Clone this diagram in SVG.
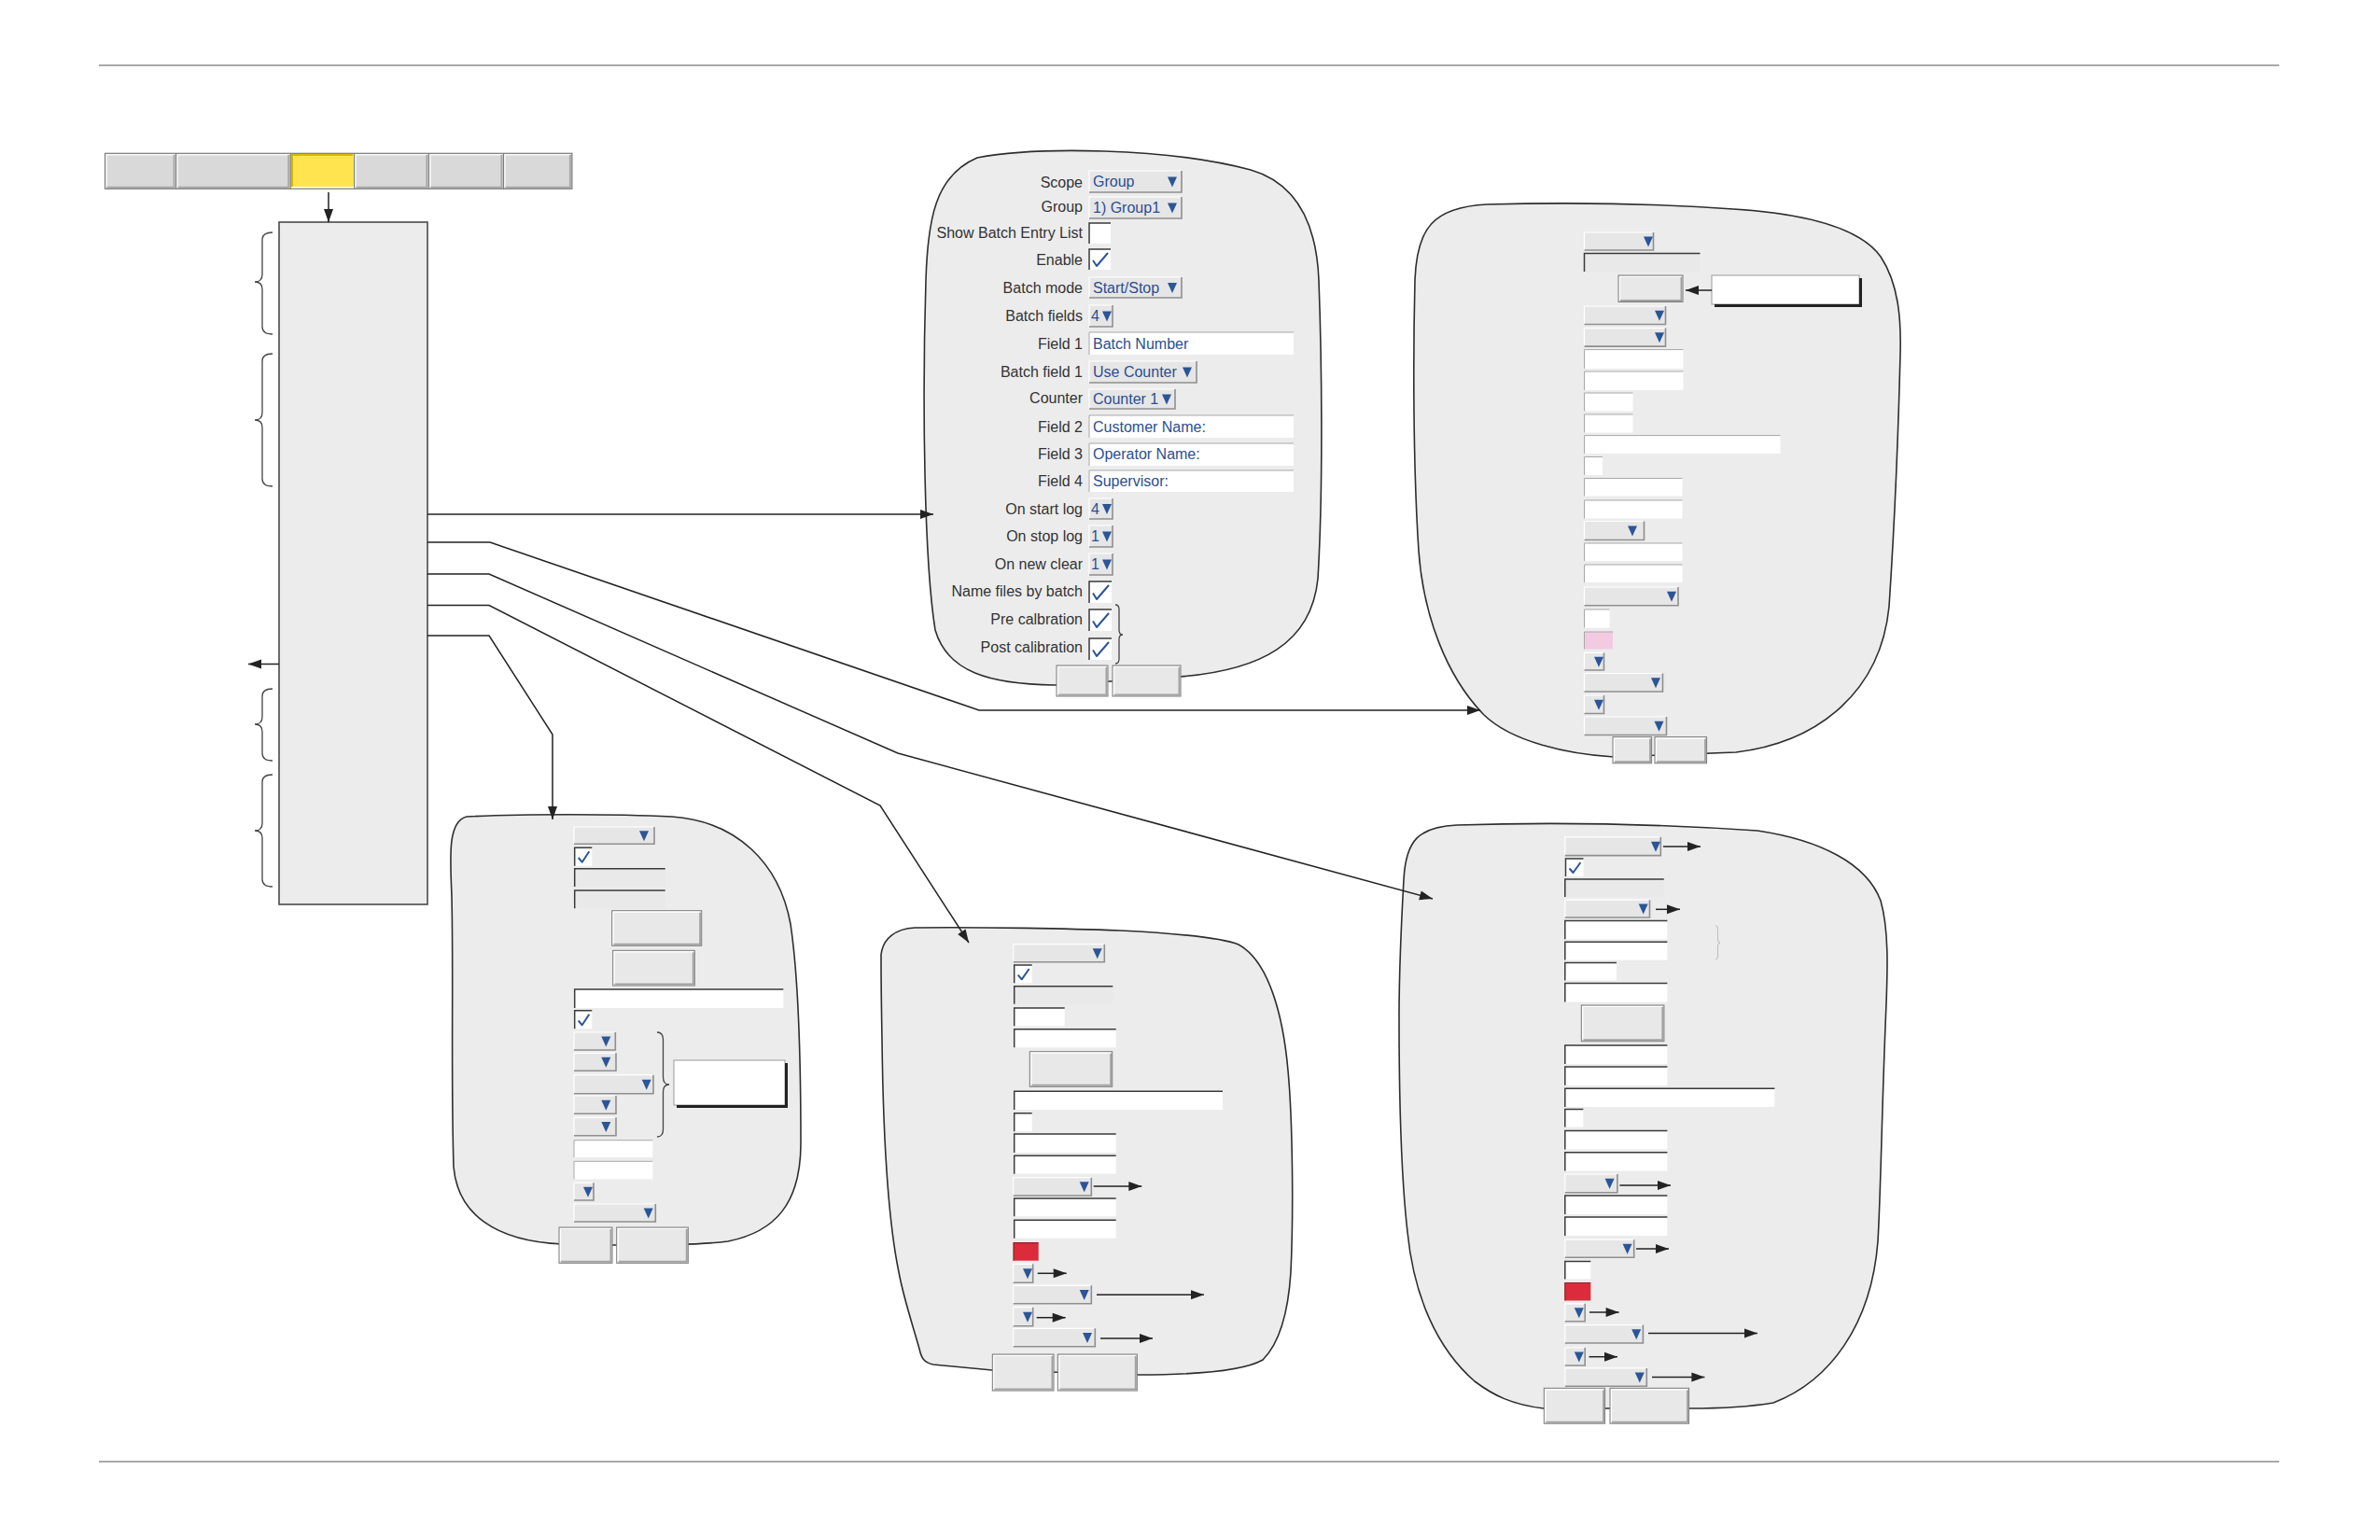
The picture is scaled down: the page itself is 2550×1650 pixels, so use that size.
<svg xmlns="http://www.w3.org/2000/svg" width="2550" height="1650" viewBox="0 0 2550 1650">
<style>
.rule{stroke:#8c8c8c;stroke-width:1.5}
.bub{fill:#ececec;stroke:#2e2e2e;stroke-width:1.6}
.box{fill:#ececec;stroke:#4a4a4a;stroke-width:1.6}
.dd{fill:#e6e6e6}
.sh{fill:none;stroke:#8f8f8f;stroke-width:1.6}
.hl{fill:none;stroke:#fff;stroke-width:1.2}
.tri{fill:#2c5597}
.tf{fill:#fff}
.tfg{fill:#e9e9e9}
.ind{fill:none;stroke:#3a3a3a;stroke-width:1.5}
.inl{fill:none;stroke:#a8a8a8;stroke-width:1}
.btn{fill:#e8e8e8;stroke:#7a7a7a;stroke-width:1}
.bsh{fill:none;stroke:#a3a3a3;stroke-width:2}
.chk{fill:none;stroke:#2c5597;stroke-width:2;stroke-linejoin:round}
.lbl{font-family:"Liberation Sans",Arial,sans-serif;font-size:16px;fill:#333;text-anchor:end}
.val{font-family:"Liberation Sans",Arial,sans-serif;font-size:16px;fill:#2b4e93}
.con{fill:none;stroke:#232323;stroke-width:1.5}
.brc{fill:none;stroke:#444;stroke-width:1.3}
.call{fill:#fff;stroke:#9a9a9a;stroke-width:1}
.cals{fill:none;stroke:#222;stroke-width:3}
.red{fill:#dc2b3b}
.pink{fill:#f2cbe2}
.tab{fill:#d9d9d9}
.tsh{fill:none;stroke:#a8a8a8;stroke-width:2}
</style>
<defs>
<marker id="ah" markerUnits="userSpaceOnUse" markerWidth="14" markerHeight="10" refX="14" refY="5" orient="auto" overflow="visible"><path d="M0,0 L14,5 L0,10 Z" fill="#232323"/></marker>
</defs>
<rect width="2550" height="1650" fill="#fff"/>
<g id="rules">
<line class="rule" x1="106" y1="70" x2="2442" y2="70"/>
<line class="rule" x1="106" y1="1566" x2="2442" y2="1566"/>
</g>
<g id="tabs">
<rect class="tab" x="112.5" y="164.3" width="76.1" height="38"/>
<rect class="tab" x="188.6" y="164.3" width="122.7" height="38"/>
<rect fill="#ffe450" x="311.3" y="164.3" width="68.3" height="38"/>
<rect class="tab" x="379.6" y="164.3" width="79.8" height="38"/>
<rect class="tab" x="459.4" y="164.3" width="80.1" height="38"/>
<rect class="tab" x="539.5" y="164.3" width="73.4" height="38"/>
<path class="hl" d="M114,201 V165.8 H187 M190.1,201 V165.8 H309.8 M381.1,201 V165.8 H457.9 M460.9,201 V165.8 H538 M541,201 V165.8 H611.4"/>
<path class="tsh" d="M114.5,200.8 H186.6 V166 M190.6,200.8 H309.3 V166 M381.6,200.8 H457.4 V166 M461.4,200.8 H537.5 V166 M541.5,200.8 H610.9 V166"/>
<path fill="none" stroke="#d9b800" stroke-width="2.5" d="M312.8,201 V165.8 H378"/>
<path fill="none" stroke="#fff" stroke-width="2" d="M312,201 H379"/>
<path fill="none" stroke="#7d7d7d" stroke-width="1" d="M188.6,164.3 V202.3 M311.3,164.3 V202.3 M379.6,164.3 V202.3 M459.4,164.3 V202.3 M539.5,164.3 V202.3"/>
<rect x="112.5" y="164.3" width="500.4" height="38" fill="none" stroke="#7d7d7d" stroke-width="1.2"/>
</g>
<g id="main">
<rect class="box" x="299" y="238" width="159" height="731"/>
<path class="brc" d="M292,249 Q281,249 281,257 L281,294 Q281,302 273,302 Q281,302 281,310 L281,350 Q281,358 292,358"/>
<path class="brc" d="M292,379 Q281,379 281,387 L281,442 Q281,450 273,450 Q281,450 281,458 L281,513 Q281,521 292,521"/>
<path class="brc" d="M292,738 Q281,738 281,746 L281,768 Q281,776 273,776 Q281,776 281,784 L281,807 Q281,815 292,815"/>
<path class="brc" d="M292,830 Q281,830 281,838 L281,882 Q281,890 273,890 Q281,890 281,898 L281,942 Q281,950 292,950"/>
</g>
<g id="b1">
<path class="bub" d="M1047,169 C1110,157 1250,158 1340,182 C1395,198 1411,250 1413,300 C1416,380 1418,520 1412,620 C1405,690 1350,718 1265,725 L1130,734 C1060,733 1015,720 1002,675 C990,600 988,430 992,300 C994,235 1002,188 1047,169 Z"/>
<text class="lbl" x="1160" y="200.5">Scope</text>
<text class="lbl" x="1160" y="227">Group</text>
<text class="lbl" x="1160" y="255">Show Batch Entry List</text>
<text class="lbl" x="1160" y="283.5">Enable</text>
<text class="lbl" x="1160" y="313.5">Batch mode</text>
<text class="lbl" x="1160" y="344">Batch fields</text>
<text class="lbl" x="1160" y="373.5">Field 1</text>
<text class="lbl" x="1160" y="404">Batch field 1</text>
<text class="lbl" x="1160" y="432">Counter</text>
<text class="lbl" x="1160" y="462.5">Field 2</text>
<text class="lbl" x="1160" y="492">Field 3</text>
<text class="lbl" x="1160" y="521">Field 4</text>
<text class="lbl" x="1160" y="550.5">On start log</text>
<text class="lbl" x="1160" y="580">On stop log</text>
<text class="lbl" x="1160" y="610">On new clear</text>
<text class="lbl" x="1160" y="638.5">Name files by batch</text>
<text class="lbl" x="1160" y="668.5">Pre calbration</text>
<text class="lbl" x="1160" y="699">Post calibration</text>
<rect class="dd" x="1167" y="183" width="99" height="23"/><path class="hl" d="M1167,206 V183 H1266"/><path class="sh" d="M1167,206 H1266 V183"/><path class="tri" d="M1251,189.5 h10 l-5,11 z"/><text class="val" x="1171" y="200">Group</text>
<rect class="dd" x="1167" y="211" width="99" height="23"/><path class="hl" d="M1167,234 V211 H1266"/><path class="sh" d="M1167,234 H1266 V211"/><path class="tri" d="M1251,217.5 h10 l-5,11 z"/><text class="val" x="1171" y="228">1) Group1</text>
<rect class="tf" x="1167" y="239" width="23" height="22"/><path class="ind" d="M1167,261 V239 H1190"/>
<rect class="tf" x="1167" y="267" width="23" height="22"/><path class="ind" d="M1167,289 V267 H1190"/><path class="chk" d="M1171,279 L1175,285 L1187,271"/>
<rect class="dd" x="1167" y="297" width="99" height="22"/><path class="hl" d="M1167,319 V297 H1266"/><path class="sh" d="M1167,319 H1266 V297"/><path class="tri" d="M1251,303 h10 l-5,11 z"/><text class="val" x="1171" y="313.5">Start/Stop</text>
<rect class="dd" x="1167" y="327" width="25" height="23"/><path class="hl" d="M1167,350 V327 H1192"/><path class="sh" d="M1167,350 H1192 V327"/><path class="tri" d="M1181,333.5 h10 l-5,11 z"/><text class="val" x="1169" y="344">4</text>
<rect class="tf" x="1167" y="356" width="219" height="24"/><path class="inl" d="M1167,380 V356 H1386"/><text class="val" x="1171" y="373.5">Batch Number</text>
<rect class="dd" x="1167" y="387" width="115" height="23"/><path class="hl" d="M1167,410 V387 H1282"/><path class="sh" d="M1167,410 H1282 V387"/><path class="tri" d="M1267,393.5 h10 l-5,11 z"/><text class="val" x="1171" y="404">Use Counter</text>
<rect class="dd" x="1167" y="417" width="92" height="21"/><path class="hl" d="M1167,438 V417 H1259"/><path class="sh" d="M1167,438 H1259 V417"/><path class="tri" d="M1245,422.5 h10 l-5,11 z"/><text class="val" x="1171" y="433">Counter 1</text>
<rect class="tf" x="1167" y="445" width="219" height="24"/><path class="inl" d="M1167,469 V445 H1386"/><text class="val" x="1171" y="462.5">Customer Name:</text>
<rect class="tf" x="1167" y="475" width="219" height="24"/><path class="inl" d="M1167,499 V475 H1386"/><text class="val" x="1171" y="492">Operator Name:</text>
<rect class="tf" x="1167" y="504" width="219" height="23"/><path class="inl" d="M1167,527 V504 H1386"/><text class="val" x="1171" y="521">Supervisor:</text>
<rect class="dd" x="1167" y="534" width="25" height="22"/><path class="hl" d="M1167,556 V534 H1192"/><path class="sh" d="M1167,556 H1192 V534"/><path class="tri" d="M1181,540 h10 l-5,11 z"/><text class="val" x="1169" y="550.5">4</text>
<rect class="dd" x="1167" y="563" width="25" height="23"/><path class="hl" d="M1167,586 V563 H1192"/><path class="sh" d="M1167,586 H1192 V563"/><path class="tri" d="M1181,569.5 h10 l-5,11 z"/><text class="val" x="1169" y="580">1</text>
<rect class="dd" x="1167" y="593" width="25" height="23"/><path class="hl" d="M1167,616 V593 H1192"/><path class="sh" d="M1167,616 H1192 V593"/><path class="tri" d="M1181,599.5 h10 l-5,11 z"/><text class="val" x="1169" y="610">1</text>
<rect class="tf" x="1167" y="623" width="24" height="23"/><path class="ind" d="M1167,646 V623 H1191"/><path class="chk" d="M1171,635.5 L1175,642 L1188,627"/>
<rect class="tf" x="1167" y="653" width="24" height="23"/><path class="ind" d="M1167,676 V653 H1191"/><path class="chk" d="M1171,665.5 L1175,672 L1188,657"/>
<rect class="tf" x="1167" y="684" width="24" height="23"/><path class="ind" d="M1167,707 V684 H1191"/><path class="chk" d="M1171,696.5 L1175,703 L1188,688"/>
<path class="brc" d="M1195,648 Q1199,648 1199,653 L1199,675 Q1199,680 1203,680 Q1199,680 1199,685 L1199,706 Q1199,711 1195,711"/>
<rect class="btn" x="1132" y="713" width="55" height="33"/><path class="bsh" d="M1134,744.5 H1185.5 V715"/><path class="hl" d="M1133.5,744 V714.5 H1185"/>
<rect class="btn" x="1192" y="713" width="73" height="33"/><path class="bsh" d="M1194,744.5 H1263.5 V715"/><path class="hl" d="M1193.5,744 V714.5 H1263"/>
</g>
<g id="b2">
<path class="bub" d="M1593,219 C1700,216 1800,220 1857,224 C1920,228 1990,240 2015,275 C2035,305 2037,345 2036,380 C2034,460 2030,560 2024,650 C2015,740 1950,795 1860,806 L1729,811 C1680,808 1620,795 1590,766 C1550,725 1525,660 1520,590 C1514,500 1514,380 1516,300 C1518,245 1535,222 1593,219 Z"/>
<rect class="dd" x="1697.5" y="249" width="74" height="19"/><path class="hl" d="M1697.5,268 V249 H1771.5"/><path class="sh" d="M1697.5,268 H1771.5 V249"/><path class="tri" d="M1761,253.5 h10 l-5,11 z"/>
<rect class="tfg" x="1697.5" y="271.4" width="124" height="19.6"/><path class="ind" d="M1697.5,291 V271.4 H1821.5"/>
<rect class="btn" x="1734" y="295" width="69" height="28.5"/><path class="bsh" d="M1736,322 H1801.5 V297"/><path class="hl" d="M1735.5,321.5 V296.5 H1801"/>
<rect class="call" x="1834" y="295" width="158" height="31"/><path class="cals" d="M1837,327.5 H1993.5 V298"/>
<rect class="dd" x="1697.5" y="328" width="87" height="19.5"/><path class="hl" d="M1697.5,347.5 V328 H1784.5"/><path class="sh" d="M1697.5,347.5 H1784.5 V328"/><path class="tri" d="M1773,332.75 h10 l-5,11 z"/>
<rect class="dd" x="1697.5" y="351.6" width="87" height="19.5"/><path class="hl" d="M1697.5,371.1 V351.6 H1784.5"/><path class="sh" d="M1697.5,371.1 H1784.5 V351.6"/><path class="tri" d="M1773,356.35 h10 l-5,11 z"/>
<rect class="tf" x="1697.5" y="374.6" width="106" height="20.4"/><path class="inl" d="M1697.5,395 V374.6 H1803.5"/>
<rect class="tf" x="1697.5" y="398" width="106" height="20"/><path class="inl" d="M1697.5,418 V398 H1803.5"/>
<rect class="tf" x="1697.5" y="421" width="52" height="19.5"/><path class="inl" d="M1697.5,440.5 V421 H1749.5"/>
<rect class="tf" x="1697.5" y="444" width="52" height="19.5"/><path class="inl" d="M1697.5,463.5 V444 H1749.5"/>
<rect class="tf" x="1697.5" y="466.6" width="210" height="19.4"/><path class="inl" d="M1697.5,486 V466.6 H1907.5"/>
<rect class="tf" x="1697.5" y="489.5" width="19.5" height="19.5"/><path class="inl" d="M1697.5,509 V489.5 H1717"/>
<rect class="tf" x="1697.5" y="512.5" width="105" height="19"/><path class="inl" d="M1697.5,531.5 V512.5 H1802.5"/>
<rect class="tf" x="1697.5" y="536" width="105" height="19.5"/><path class="inl" d="M1697.5,555.5 V536 H1802.5"/>
<rect class="dd" x="1697.5" y="558.5" width="64" height="20"/><path class="hl" d="M1697.5,578.5 V558.5 H1761.5"/><path class="sh" d="M1697.5,578.5 H1761.5 V558.5"/><path class="tri" d="M1744,563.5 h10 l-5,11 z"/>
<rect class="tf" x="1697.5" y="582" width="105" height="19"/><path class="inl" d="M1697.5,601 V582 H1802.5"/>
<rect class="tf" x="1697.5" y="605" width="105" height="19"/><path class="inl" d="M1697.5,624 V605 H1802.5"/>
<rect class="dd" x="1697.5" y="629" width="100.5" height="19.7"/><path class="hl" d="M1697.5,648.7 V629 H1798"/><path class="sh" d="M1697.5,648.7 H1798 V629"/><path class="tri" d="M1786,633.85 h10 l-5,11 z"/>
<rect class="tf" x="1697.5" y="653" width="27" height="19.6"/><path class="inl" d="M1697.5,672.6 V653 H1724.5"/>
<rect class="pink" x="1697.5" y="677" width="30.5" height="18.5"/><path class="inl" d="M1697.5,695.5 V677 H1728"/>
<rect class="dd" x="1697.5" y="699.4" width="21" height="18.6"/><path class="hl" d="M1697.5,718 V699.4 H1718.5"/><path class="sh" d="M1697.5,718 H1718.5 V699.4"/><path class="tri" d="M1708,703.7 h10 l-5,11 z"/>
<rect class="dd" x="1697.5" y="721.5" width="84" height="19.5"/><path class="hl" d="M1697.5,741 V721.5 H1781.5"/><path class="sh" d="M1697.5,741 H1781.5 V721.5"/><path class="tri" d="M1769,726.25 h10 l-5,11 z"/>
<rect class="dd" x="1697.5" y="745" width="21" height="19.5"/><path class="hl" d="M1697.5,764.5 V745 H1718.5"/><path class="sh" d="M1697.5,764.5 H1718.5 V745"/><path class="tri" d="M1708,749.75 h10 l-5,11 z"/>
<rect class="dd" x="1697.5" y="768" width="88" height="19.5"/><path class="hl" d="M1697.5,787.5 V768 H1785.5"/><path class="sh" d="M1697.5,787.5 H1785.5 V768"/><path class="tri" d="M1772.5,772.75 h10 l-5,11 z"/>
<rect class="btn" x="1728" y="789.6" width="41.6" height="28.2"/><path class="bsh" d="M1730,816.3 H1768.1 V791.6"/><path class="hl" d="M1729.5,815.8 V791.1 H1767.6"/>
<rect class="btn" x="1773" y="789.6" width="55.6" height="28.2"/><path class="bsh" d="M1775,816.3 H1827.1 V791.6"/><path class="hl" d="M1774.5,815.8 V791.1 H1826.6"/>
<path class="con" marker-end="url(#ah)" d="M1834,311 H1806"/>
</g>
<g id="b4">
<path class="bub" d="M500,875 C560,872 660,872 720,875 C790,880 835,925 847,990 C856,1050 858,1150 858,1225 C858,1290 830,1320 780,1330 C750,1334 700,1334 650,1334 L603,1333 C530,1330 490,1300 486,1250 C483,1150 486,1050 484,960 C482,915 480,880 500,875 Z"/>
<rect class="dd" x="615" y="886" width="86" height="18.3"/><path class="hl" d="M615,904.3 V886 H701"/><path class="sh" d="M615,904.3 H701 V886"/><path class="tri" d="M685,890.15 h10 l-5,11 z"/>
<rect class="tf" x="615.7" y="908.3" width="18.6" height="19.4"/><path class="ind" d="M615.7,927.7 V908.3 H634.3"/><path class="chk" d="M619.7,919 L623.7,923.7 L631.3,912.3"/>
<rect class="tfg" x="615.7" y="930.7" width="97" height="19.3"/><path class="ind" d="M615.7,950 V930.7 H712.7"/>
<rect class="tfg" x="615.7" y="954" width="97" height="19.3"/><path class="ind" d="M615.7,973.3 V954 H712.7"/>
<rect class="btn" x="655.7" y="975.7" width="96" height="37.6"/><path class="bsh" d="M657.7,1011.8 H750.2 V977.7"/><path class="hl" d="M657.2,1011.3 V977.2 H749.7"/>
<rect class="btn" x="656.7" y="1018.3" width="87.6" height="37.7"/><path class="bsh" d="M658.7,1054.5 H742.8 V1020.3"/><path class="hl" d="M658.2,1054 V1019.8 H742.3"/>
<rect class="tf" x="615.7" y="1060" width="223.6" height="20"/><path class="ind" d="M615.7,1080 V1060 H839.3"/>
<rect class="tf" x="615.7" y="1082.7" width="18.6" height="19.6"/><path class="ind" d="M615.7,1102.3 V1082.7 H634.3"/><path class="chk" d="M619.7,1093.5 L623.7,1098.3 L631.3,1086.7"/>
<rect class="dd" x="615" y="1106" width="44.3" height="19"/><path class="hl" d="M615,1125 V1106 H659.3"/><path class="sh" d="M615,1125 H659.3 V1106"/><path class="tri" d="M644.3,1110.5 h10 l-5,11 z"/>
<rect class="dd" x="615" y="1128.3" width="45" height="19"/><path class="hl" d="M615,1147.3 V1128.3 H660"/><path class="sh" d="M615,1147.3 H660 V1128.3"/><path class="tri" d="M644.3,1132.8 h10 l-5,11 z"/>
<rect class="dd" x="615" y="1151.7" width="85" height="20"/><path class="hl" d="M615,1171.7 V1151.7 H700"/><path class="sh" d="M615,1171.7 H700 V1151.7"/><path class="tri" d="M687.7,1156.7 h10 l-5,11 z"/>
<rect class="dd" x="615" y="1174" width="45" height="19.3"/><path class="hl" d="M615,1193.3 V1174 H660"/><path class="sh" d="M615,1193.3 H660 V1174"/><path class="tri" d="M644.3,1178.65 h10 l-5,11 z"/>
<rect class="dd" x="615" y="1197.3" width="45" height="19.4"/><path class="hl" d="M615,1216.7 V1197.3 H660"/><path class="sh" d="M615,1216.7 H660 V1197.3"/><path class="tri" d="M644.3,1202 h10 l-5,11 z"/>
<path class="brc" d="M704,1106 Q710.5,1106 710.5,1114 L710.5,1154 Q710.5,1162 717,1162 Q710.5,1162 710.5,1170 L710.5,1210 Q710.5,1218 704,1218"/>
<rect class="call" x="722" y="1136" width="119" height="48"/><path class="cals" d="M725,1185.5 H842.5 V1139"/>
<rect class="tf" x="615" y="1221.7" width="84.3" height="18.3"/><path class="inl" d="M615,1240 V1221.7 H699.3"/>
<rect class="tf" x="615" y="1244.3" width="84.3" height="19"/><path class="inl" d="M615,1263.3 V1244.3 H699.3"/>
<rect class="dd" x="615" y="1267.3" width="21" height="18.7"/><path class="hl" d="M615,1286 V1267.3 H636"/><path class="sh" d="M615,1286 H636 V1267.3"/><path class="tri" d="M625,1271.65 h10 l-5,11 z"/>
<rect class="dd" x="615" y="1290" width="87.3" height="19"/><path class="hl" d="M615,1309 V1290 H702.3"/><path class="sh" d="M615,1309 H702.3 V1290"/><path class="tri" d="M689.7,1294.5 h10 l-5,11 z"/>
<rect class="btn" x="599" y="1315" width="57" height="38.3"/><path class="bsh" d="M601,1351.8 H654.5 V1317"/><path class="hl" d="M600.5,1351.3 V1316.5 H654"/>
<rect class="btn" x="660.7" y="1315" width="76.6" height="38.3"/><path class="bsh" d="M662.7,1351.8 H735.8 V1317"/><path class="hl" d="M662.2,1351.3 V1316.5 H735.3"/>
</g>
<g id="b3">
<path class="bub" d="M980,994 C1050,993 1150,995 1200,997 C1260,1000 1310,1005 1327,1012 C1360,1030 1375,1090 1380,1147 C1385,1200 1386,1300 1383,1363 C1380,1410 1370,1440 1353,1457 C1330,1470 1270,1473 1220,1473 L1063,1468 L1000,1462 C990,1460 987,1455 985,1445 C975,1410 968,1390 963,1363 C950,1300 946,1200 945,1113 C944,1060 944,1030 944,1023 C946,1005 960,995 980,994 Z"/>
<rect class="dd" x="1085.7" y="1011.7" width="97.6" height="19"/><path class="hl" d="M1085.7,1030.7 V1011.7 H1183.3"/><path class="sh" d="M1085.7,1030.7 H1183.3 V1011.7"/><path class="tri" d="M1170.7,1016.2 h10 l-5,11 z"/>
<rect class="tf" x="1086.7" y="1034" width="19" height="19.3"/><path class="ind" d="M1086.7,1053.3 V1034 H1105.7"/><path class="chk" d="M1090.7,1044.6 L1094.7,1049.3 L1102.7,1038"/>
<rect class="tfg" x="1086.7" y="1056.7" width="105.6" height="19"/><path class="ind" d="M1086.7,1075.7 V1056.7 H1192.3"/>
<rect class="tf" x="1086.7" y="1080" width="54" height="19.3"/><path class="ind" d="M1086.7,1099.3 V1080 H1140.7"/>
<rect class="tf" x="1086.7" y="1102.7" width="109" height="19.6"/><path class="ind" d="M1086.7,1122.3 V1102.7 H1195.7"/>
<rect class="btn" x="1103.3" y="1126.7" width="88.4" height="37.6"/><path class="bsh" d="M1105.3,1162.8 H1190.2 V1128.7"/><path class="hl" d="M1104.8,1162.3 V1128.2 H1189.7"/>
<rect class="tf" x="1086.7" y="1169.3" width="223.3" height="19.7"/><path class="ind" d="M1086.7,1189 V1169.3 H1310"/>
<rect class="tf" x="1086.7" y="1192.7" width="19" height="19.6"/><path class="ind" d="M1086.7,1212.3 V1192.7 H1105.7"/>
<rect class="tf" x="1086.7" y="1215" width="109" height="20"/><path class="ind" d="M1086.7,1235 V1215 H1195.7"/>
<rect class="tf" x="1086.7" y="1238.3" width="109" height="19.4"/><path class="ind" d="M1086.7,1257.7 V1238.3 H1195.7"/>
<rect class="dd" x="1085.7" y="1261.7" width="83.6" height="19.3"/><path class="hl" d="M1085.7,1281 V1261.7 H1169.3"/><path class="sh" d="M1085.7,1281 H1169.3 V1261.7"/><path class="tri" d="M1156.7,1266.35 h10 l-5,11 z"/>
<rect class="tf" x="1086.7" y="1284" width="109" height="19.3"/><path class="ind" d="M1086.7,1303.3 V1284 H1195.7"/>
<rect class="tf" x="1086.7" y="1307.3" width="109" height="19.4"/><path class="ind" d="M1086.7,1326.7 V1307.3 H1195.7"/>
<rect class="red" x="1086" y="1331.7" width="26.7" height="19"/><path fill="none" stroke="#9a1b26" stroke-width="1.2" d="M1086,1350.7 V1331.7 H1112.7"/>
<rect class="dd" x="1085.7" y="1354.3" width="21" height="20"/><path class="hl" d="M1085.7,1374.3 V1354.3 H1106.7"/><path class="sh" d="M1085.7,1374.3 H1106.7 V1354.3"/><path class="tri" d="M1096,1359.3 h10 l-5,11 z"/>
<rect class="dd" x="1085.7" y="1377.3" width="83.6" height="19.4"/><path class="hl" d="M1085.7,1396.7 V1377.3 H1169.3"/><path class="sh" d="M1085.7,1396.7 H1169.3 V1377.3"/><path class="tri" d="M1156.7,1382 h10 l-5,11 z"/>
<rect class="dd" x="1085.7" y="1400.7" width="21" height="20"/><path class="hl" d="M1085.7,1420.7 V1400.7 H1106.7"/><path class="sh" d="M1085.7,1420.7 H1106.7 V1400.7"/><path class="tri" d="M1096,1405.7 h10 l-5,11 z"/>
<rect class="dd" x="1085.7" y="1423.3" width="87.6" height="19.4"/><path class="hl" d="M1085.7,1442.7 V1423.3 H1173.3"/><path class="sh" d="M1085.7,1442.7 H1173.3 V1423.3"/><path class="tri" d="M1160,1428 h10 l-5,11 z"/>
<path class="con" marker-end="url(#ah)" d="M1171.7,1271 H1223.3"/>
<path class="con" marker-end="url(#ah)" d="M1111.7,1364.3 H1142.7"/>
<path class="con" marker-end="url(#ah)" d="M1175,1387.3 H1290"/>
<path class="con" marker-end="url(#ah)" d="M1110.7,1411.7 H1141.7"/>
<path class="con" marker-end="url(#ah)" d="M1179,1434 H1235"/>
<rect class="btn" x="1063.3" y="1451" width="65.7" height="39"/><path class="bsh" d="M1065.3,1488.5 H1127.5 V1453"/><path class="hl" d="M1064.8,1488 V1452.5 H1127"/>
<rect class="btn" x="1133.3" y="1451" width="85" height="39"/><path class="bsh" d="M1135.3,1488.5 H1216.8 V1453"/><path class="hl" d="M1134.8,1488 V1452.5 H1216.3"/>
</g>
<g id="b5">
<path class="bub" d="M1561,884 C1650,881 1750,881 1883,890 C1950,900 2000,925 2015,965 C2025,1000 2022,1050 2020,1100 C2016,1200 2015,1280 2012,1330 C2005,1420 1960,1480 1900,1503 C1870,1508 1840,1509 1811,1509 L1654,1509 C1620,1505 1600,1495 1580,1480 C1540,1445 1515,1390 1508,1320 C1500,1250 1499,1150 1499,1090 C1499,1030 1502,980 1504,943 C1506,900 1520,886 1561,884 Z"/>
<rect class="dd" x="1676.8" y="896.8" width="102.5" height="19.8"/><path class="hl" d="M1676.8,916.6 V896.8 H1779.3"/><path class="sh" d="M1676.8,916.6 H1779.3 V896.8"/><path class="tri" d="M1769,901.7 h10 l-5,11 z"/>
<rect class="tf" x="1677.5" y="920" width="19" height="19"/><path class="ind" d="M1677.5,939 V920 H1696.5"/><path class="chk" d="M1681.5,930.5 L1685.5,935 L1693.5,924"/>
<rect class="tfg" x="1676.8" y="941.9" width="106" height="19"/><path class="ind" d="M1676.8,960.9 V941.9 H1782.8"/>
<rect class="dd" x="1676.8" y="964.2" width="90.7" height="18.8"/><path class="hl" d="M1676.8,983 V964.2 H1767.5"/><path class="sh" d="M1676.8,983 H1767.5 V964.2"/><path class="tri" d="M1755.7,968.6 h10 l-5,11 z"/>
<rect class="tf" x="1676.8" y="986.5" width="109.6" height="19.8"/><path class="ind" d="M1676.8,1006.3 V986.5 H1786.4"/>
<rect class="tf" x="1676.8" y="1009.2" width="109.6" height="19.4"/><path class="ind" d="M1676.8,1028.6 V1009.2 H1786.4"/>
<path fill="none" stroke="#bbb" stroke-width="1" d="M1838,991.5 Q1840.5,991.5 1840.5,995.5 L1840.5,1006 Q1840.5,1010 1843,1010 Q1840.5,1010 1840.5,1014 L1840.5,1024 Q1840.5,1028 1838,1028"/>
<rect class="tf" x="1676.8" y="1031.5" width="55.2" height="19"/><path class="ind" d="M1676.8,1050.5 V1031.5 H1732"/>
<rect class="tf" x="1676.8" y="1053.4" width="109.6" height="20.2"/><path class="ind" d="M1676.8,1073.6 V1053.4 H1786.4"/>
<rect class="btn" x="1694.3" y="1077" width="88.6" height="38.7"/><path class="bsh" d="M1696.3,1114.2 H1781.4 V1079"/><path class="hl" d="M1695.8,1113.7 V1078.5 H1780.9"/>
<rect class="tf" x="1676.8" y="1120" width="109.6" height="20"/><path class="ind" d="M1676.8,1140 V1120 H1786.4"/>
<rect class="tf" x="1676.8" y="1143" width="109.6" height="19.8"/><path class="ind" d="M1676.8,1162.8 V1143 H1786.4"/>
<rect class="tf" x="1676.8" y="1166.2" width="224.6" height="19.8"/><path class="ind" d="M1676.8,1186 V1166.2 H1901.4"/>
<rect class="tf" x="1676.8" y="1188.5" width="19.6" height="19"/><path class="ind" d="M1676.8,1207.5 V1188.5 H1696.4"/>
<rect class="tf" x="1676.8" y="1211.6" width="109.6" height="19.8"/><path class="ind" d="M1676.8,1231.4 V1211.6 H1786.4"/>
<rect class="tf" x="1676.8" y="1234.8" width="109.6" height="19.8"/><path class="ind" d="M1676.8,1254.6 V1234.8 H1786.4"/>
<rect class="dd" x="1676.8" y="1258" width="56.1" height="19.7"/><path class="hl" d="M1676.8,1277.7 V1258 H1732.9"/><path class="sh" d="M1676.8,1277.7 H1732.9 V1258"/><path class="tri" d="M1719.6,1262.85 h10 l-5,11 z"/>
<rect class="tf" x="1676.8" y="1281" width="109.6" height="20"/><path class="ind" d="M1676.8,1301 V1281 H1786.4"/>
<rect class="tf" x="1676.8" y="1304" width="109.6" height="20"/><path class="ind" d="M1676.8,1324 V1304 H1786.4"/>
<rect class="dd" x="1676.8" y="1328.2" width="73.9" height="19"/><path class="hl" d="M1676.8,1347.2 V1328.2 H1750.7"/><path class="sh" d="M1676.8,1347.2 H1750.7 V1328.2"/><path class="tri" d="M1738.6,1332.7 h10 l-5,11 z"/>
<rect class="tf" x="1676.8" y="1351.4" width="27.5" height="19"/><path class="ind" d="M1676.8,1370.4 V1351.4 H1704.3"/>
<rect class="red" x="1676.8" y="1374.5" width="27.5" height="19"/><path fill="none" stroke="#9a1b26" stroke-width="1.2" d="M1676.8,1393.5 V1374.5 H1704.3"/>
<rect class="dd" x="1676.8" y="1396.8" width="21.4" height="19"/><path class="hl" d="M1676.8,1415.8 V1396.8 H1698.2"/><path class="sh" d="M1676.8,1415.8 H1698.2 V1396.8"/><path class="tri" d="M1686.8,1401.3 h10 l-5,11 z"/>
<rect class="dd" x="1676.8" y="1419.6" width="83.6" height="19.4"/><path class="hl" d="M1676.8,1439 V1419.6 H1760.4"/><path class="sh" d="M1676.8,1439 H1760.4 V1419.6"/><path class="tri" d="M1748.2,1424.3 h10 l-5,11 z"/>
<rect class="dd" x="1676.8" y="1444" width="21.4" height="19"/><path class="hl" d="M1676.8,1463 V1444 H1698.2"/><path class="sh" d="M1676.8,1463 H1698.2 V1444"/><path class="tri" d="M1686.8,1448.5 h10 l-5,11 z"/>
<rect class="dd" x="1676.8" y="1465.9" width="87.5" height="19.3"/><path class="hl" d="M1676.8,1485.2 V1465.9 H1764.3"/><path class="sh" d="M1676.8,1485.2 H1764.3 V1465.9"/><path class="tri" d="M1751.8,1470.55 h10 l-5,11 z"/>
<path class="con" marker-end="url(#ah)" d="M1782,907 H1822"/>
<path class="con" marker-end="url(#ah)" d="M1774,974.3 H1800"/>
<path class="con" marker-end="url(#ah)" d="M1735.4,1270 H1790"/>
<path class="con" marker-end="url(#ah)" d="M1753,1338 H1788"/>
<path class="con" marker-end="url(#ah)" d="M1703,1406 H1734.6"/>
<path class="con" marker-end="url(#ah)" d="M1766,1428.4 H1883"/>
<path class="con" marker-end="url(#ah)" d="M1702.5,1453.7 H1733"/>
<path class="con" marker-end="url(#ah)" d="M1770,1475.5 H1826.4"/>
<rect class="btn" x="1654.3" y="1487.3" width="65.3" height="37.9"/><path class="bsh" d="M1656.3,1523.7 H1718.1 V1489.3"/><path class="hl" d="M1655.8,1523.2 V1488.8 H1717.6"/>
<rect class="btn" x="1725" y="1487.3" width="84.6" height="37.9"/><path class="bsh" d="M1727,1523.7 H1808.1 V1489.3"/><path class="hl" d="M1726.5,1523.2 V1488.8 H1807.6"/>
</g>
<g id="connectors">
<path class="con" marker-end="url(#ah)" d="M352,206 V238"/>
<path class="con" marker-end="url(#ah)" d="M299,711.5 H266"/>
<path class="con" marker-end="url(#ah)" d="M458,551 H1000"/>
<path class="con" marker-end="url(#ah)" d="M458,581 H525 L1049,761 H1586"/>
<path class="con" marker-end="url(#ah)" d="M458,615 H524 L962,807 L1535,963"/>
<path class="con" marker-end="url(#ah)" d="M458,648.5 H524 L943,863 L1038,1010"/>
<path class="con" marker-end="url(#ah)" d="M458,681 H524 L592,787 V878"/>
</g>
</svg>
